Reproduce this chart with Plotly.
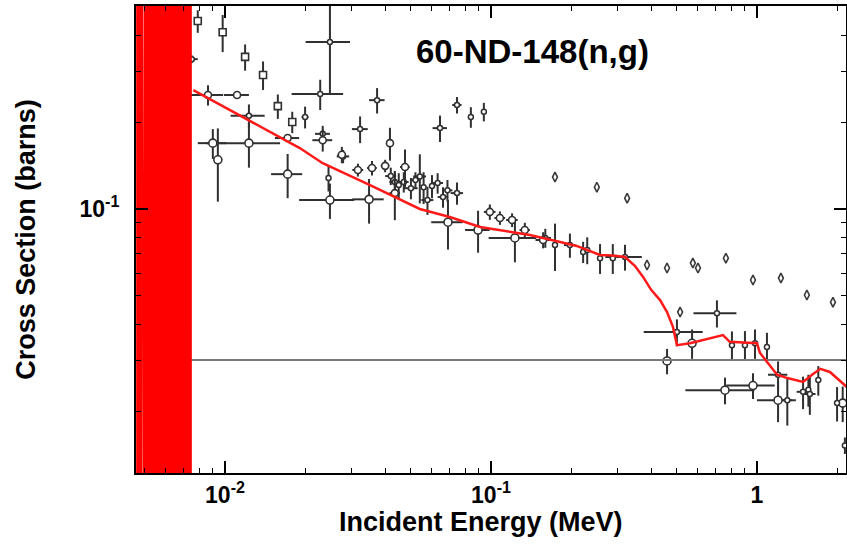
import plotly.graph_objects as go

# ---------------- data (MeV, barns) ----------------
# dataset: squares
E_sq = [0.0079, 0.0098, 0.0119, 0.0139, 0.0158, 0.0179]
s_sq = [0.447, 0.409, 0.336, 0.291, 0.227, 0.200]
dE_sq = [0, 0, 0, 0, 0, 0]
ds_sq = [0.040, 0.060, 0.035, 0.033, 0.022, 0.017]

# dataset: crosses (upper group)
E_cr = [0.0075, 0.0123, 0.0200, 0.0228, 0.0248, 0.0322, 0.0373, 0.0643, 0.0745, 0.084, 0.094]
s_cr = [0.33, 0.21, 0.208, 0.25, 0.378, 0.189, 0.238, 0.1905, 0.229, 0.208, 0.217]
dE_cr = [0.0004, 0.0018, 0.0006, 0.005, 0.0047, 0.0022, 0.0025, 0.004, 0.003, 0.0, 0.0]
ds_cr = [0.01, 0.02, 0.018, 0.03, 0.13, 0.02, 0.024, 0.02, 0.015, 0.017, 0.016]

# dataset: circles with large uncertainties
E_ci = [0.009, 0.0094, 0.0123, 0.0172, 0.0248, 0.0348, 0.0689, 0.0894, 0.123, 0.459, 0.57, 0.758, 0.966, 1.20, 2.1]
s_ci = [0.169, 0.148, 0.169, 0.132, 0.1074, 0.108, 0.090, 0.0846, 0.0794, 0.0298, 0.0343, 0.0236, 0.0245, 0.0218, 0.0213]
dE_ci = [0.0011, 0, 0.0038, 0.0023, 0.0058, 0.0047, 0.0093, 0.0095, 0.025, 0, 0, 0.22, 0.2, 0.2, 0]
ds_ci = [0.02, 0.042, 0.03, 0.023, 0.015, 0.019, 0.0176, 0.014, 0.014, 0.003, 0.004, 0.0025, 0.0025, 0.0035, 0.003]

# dataset: diamonds (high energy)
E_di = [0.174, 0.25, 0.325, 0.386, 0.459, 0.514, 0.574, 0.60, 0.764, 0.966, 1.23, 1.54, 1.93]
s_di = [0.129, 0.119, 0.109, 0.064, 0.0625, 0.044, 0.065, 0.0625, 0.0676, 0.0568, 0.0577, 0.0504, 0.0476]

# dataset: open circles with energy bins
E_oc = [0.00863, 0.0111, 0.0172, 0.0233, 0.0275, 0.0316, 0.0357, 0.040, 0.0417, 0.0475, 0.0435,
        0.099, 0.108, 0.120, 0.134, 0.157]
s_oc = [0.248, 0.248, 0.176, 0.173, 0.154, 0.1365, 0.1386, 0.141, 0.169, 0.1397, 0.1135,
        0.0977, 0.0931, 0.0916, 0.0846, 0.0781]
dE_oc = [0.0012, 0.0012, 0.0018, 0.002, 0.001, 0.0015, 0.0015, 0.0015, 0.001, 0.002, 0.002,
         0.005, 0.005, 0.006, 0.006, 0.01]
ds_oc = [0.02, 0.0, 0.0, 0.015, 0.01, 0.007, 0.008, 0.007, 0.022, 0.021, 0.022,
         0.006, 0.005, 0.005, 0.005, 0.005]

# dataset: dense crosses
E_xx = [0.0233, 0.0245, 0.0278, 0.0435, 0.047, 0.054, 0.0558, 0.0577, 0.063, 0.0686, 0.0745,
        0.16, 0.174, 0.198, 0.222, 0.230, 0.257, 0.287, 0.319, 0.50, 0.707, 0.805, 0.901,
        0.983, 1.09, 1.20, 1.30, 1.49, 1.56, 1.58, 1.70, 2.0, 2.14,
        0.0420, 0.0450, 0.0500, 0.0520, 0.0600, 0.0660]
s_xx = [0.182, 0.128, 0.152, 0.124, 0.124, 0.1296, 0.119, 0.1074, 0.123, 0.116, 0.1135,
        0.0794, 0.075, 0.075, 0.071, 0.0721, 0.0676, 0.0676, 0.0682, 0.0375, 0.0436, 0.0338, 0.0338,
        0.0343, 0.0333, 0.0267, 0.0218, 0.0233, 0.0237, 0.0229, 0.0256, 0.0213, 0.0152,
        0.130, 0.121, 0.118, 0.126, 0.120, 0.110]
dE_xx = [0.0015, 0.0, 0.0015, 0.002, 0.002, 0.003, 0.0, 0.003, 0.003, 0.003, 0.004,
         0.008, 0.0, 0.01, 0.0, 0.0, 0.0, 0.0, 0.05, 0.125, 0.13, 0.0, 0.0,
         0.0, 0.0, 0.1, 0.05, 0.08, 0.0, 0.08, 0.0, 0.0, 0.0,
         0.002, 0.0, 0.003, 0.002, 0.0, 0.003]
ds_xx = [0.012, 0.013, 0.008, 0.01, 0.01, 0.025, 0.015, 0.012, 0.01, 0.01, 0.01,
         0.006, 0.014, 0.0072, 0.006, 0.0077, 0.008, 0.008, 0.007, 0.004, 0.0047, 0.0039, 0.004,
         0.004, 0.004, 0.003, 0.004, 0.003, 0.003, 0.0035, 0.003, 0.0029, 0.001,
         0.009, 0.012, 0.01, 0.008, 0.011, 0.009]

# constant reference line
E_const = [0.00463, 2.2]
s_const = [0.03, 0.03]

# evaluated cross section (smooth region)
E_eval = [0.0076, 0.0120, 0.0191, 0.0233, 0.0351, 0.054, 0.070, 0.091, 0.140, 0.182, 0.21,
          0.257, 0.287, 0.319, 0.348, 0.373, 0.40, 0.432, 0.459, 0.483, 0.50, 0.56, 0.745,
          0.79, 1.0, 1.026, 1.19, 1.30, 1.49, 1.62, 1.73, 1.88, 2.05, 2.2]
s_eval = [0.258, 0.205, 0.1625, 0.144, 0.121, 0.100, 0.0938, 0.0867, 0.0813, 0.0769, 0.0745,
          0.0693, 0.069, 0.0682, 0.0635, 0.0582, 0.0525, 0.0484, 0.0440, 0.0391, 0.0338, 0.0343, 0.0366,
          0.0347, 0.0343, 0.0318, 0.0267, 0.0260, 0.0252, 0.0268, 0.0280, 0.0273, 0.0255, 0.0240]

# evaluated cross section (resolved resonance region)
E_res = [0.004668, 0.004729, 0.004791, 0.004853, 0.004981, 0.005046, 0.005112, 0.005179,
         0.005247, 0.005315, 0.005385, 0.005455, 0.005526, 0.005599, 0.005672, 0.005746,
         0.005821, 0.005897, 0.005974, 0.006052, 0.006131, 0.006211, 0.006292, 0.006374,
         0.006458, 0.006542, 0.006628, 0.006714, 0.006802, 0.006891, 0.006981, 0.007072,
         0.007164, 0.007258, 0.007353, 0.007449]
peak_res = [12.0, 8.5, 30.0, 6.0, 15.0, 9.0, 22.0, 5.0, 11.0, 40.0, 7.5, 18.0,
            6.5, 25.0, 9.5, 14.0, 5.5, 33.0, 8.0, 12.5, 20.0, 6.8, 16.0, 10.0,
            28.0, 7.0, 13.0, 9.2, 24.0, 5.8, 17.0, 11.5, 8.8, 21.0, 6.2, 3.0]
trough_res = [0.0012, 0.0009, 0.0015, 0.0011, 0.0008, 0.0013, 0.0010, 0.0014, 0.0009,
              0.0012, 0.0011, 0.0010, 0.0013, 0.0009, 0.0012, 0.0011, 0.0010, 0.0014,
              0.0009, 0.0012, 0.0011, 0.0013, 0.0010, 0.0009, 0.0012, 0.0011, 0.0014,
              0.0010, 0.0013, 0.0009, 0.0012, 0.0011, 0.0010, 0.0013, 0.0012, 0.0011]

x_tickvals = [0.01, 0.1, 1]
x_ticktext = ["10<sup>-2</sup>", "10<sup>-1</sup>", "1"]
y_tickvals = [0.1]
y_ticktext = ["10<sup>-1</sup>"]

title_text = "60-ND-148(n,g)"
x_title = "Incident Energy (MeV)"
y_title = "Cross Section (barns)"

# ---------------- figure ----------------
FONT = "Liberation Sans, Arial, Helvetica, sans-serif"
DARK = "#303030"

fig = go.Figure()


def add_set(E, s, dE, ds, symbol, size, lw=1.6):
    fig.add_trace(go.Scatter(
        x=E, y=s, mode="markers",
        marker=dict(symbol=symbol, size=size, color="white",
                    line=dict(color=DARK, width=lw)),
        error_x=dict(type="data", array=dE, visible=True, thickness=2, width=0, color=DARK),
        error_y=dict(type="data", array=ds, visible=True, thickness=2, width=0, color=DARK),
        showlegend=False, hoverinfo="x+y"))


add_set(E_ci, s_ci, dE_ci, ds_ci, "circle", 8)
add_set(E_xx, s_xx, dE_xx, ds_xx, "circle", 5, 1.5)
add_set(E_oc, s_oc, dE_oc, ds_oc, "circle", 7)
add_set(E_cr, s_cr, dE_cr, ds_cr, "circle", 5, 1.5)
add_set(E_sq, s_sq, dE_sq, ds_sq, "square", 7)

fig.add_trace(go.Scatter(
    x=E_di, y=s_di, mode="markers",
    marker=dict(symbol="diamond-tall", size=7, color="white", line=dict(color="#3a3a3a", width=1.6)),
    showlegend=False))

fig.add_trace(go.Scatter(x=E_const, y=s_const, mode="lines",
                         line=dict(color="#7a7a7a", width=2), showlegend=False))

# resonance region as a sawtooth of resonance peaks
xr, yr = [], []
for e, p, t in zip(E_res, peak_res, trough_res):
    xr += [e, e]
    yr += [t, p]
fig.add_trace(go.Scatter(x=xr, y=yr, mode="lines", line=dict(color="#ff0000", width=1.7),
                         showlegend=False, hoverinfo="skip"))

fig.add_trace(go.Scatter(x=E_eval, y=s_eval, mode="lines",
                         line=dict(color="#ff1a1a", width=2.5), showlegend=False))

axis_common = dict(
    type="log", showgrid=False, zeroline=False,
    showline=True, linecolor="black", linewidth=2, mirror="ticks",
    ticks="inside", ticklen=12, tickwidth=2, tickcolor="black",
    tickfont=dict(family=FONT, size=23, color="black", weight="bold"),
    minor=dict(ticks="inside", ticklen=5, tickwidth=1.3, tickcolor="black", dtick="D1", showgrid=False),
)

fig.update_xaxes(
    **axis_common, range=[-2.3346, 0.3346],
    tickmode="array", tickvals=x_tickvals, ticktext=x_ticktext,
)
fig.update_yaxes(
    **axis_common, range=[-1.9135, -0.2976],
    tickmode="array", tickvals=y_tickvals, ticktext=y_ticktext,
    ticklabelstandoff=10,
    title=dict(text=y_title, font=dict(family=FONT, size=27, color="black", weight="bold"), standoff=36),
)

# x-axis title placed as an annotation (slightly left of centre, as in the source)
fig.add_annotation(text=x_title, xref="paper", yref="paper", x=0.486, y=0, yshift=-49,
                   showarrow=False, xanchor="center", yanchor="middle",
                   font=dict(family=FONT, size=27, color="black", weight="bold"))

fig.add_annotation(text=title_text, xref="paper", yref="paper", x=0.558, y=0.902,
                   showarrow=False, xanchor="center", yanchor="middle",
                   font=dict(family=FONT, size=33, color="black", weight="bold"))

fig.update_layout(
    width=847, height=546,
    margin=dict(l=136, r=1, t=6, b=73, autoexpand=False),
    paper_bgcolor="white", plot_bgcolor="white",
    showlegend=False,
)

fig.write_html("out.html", config={"displayModeBar": False},
               post_script="document.body.style.margin='0';document.body.style.overflow='hidden';")
